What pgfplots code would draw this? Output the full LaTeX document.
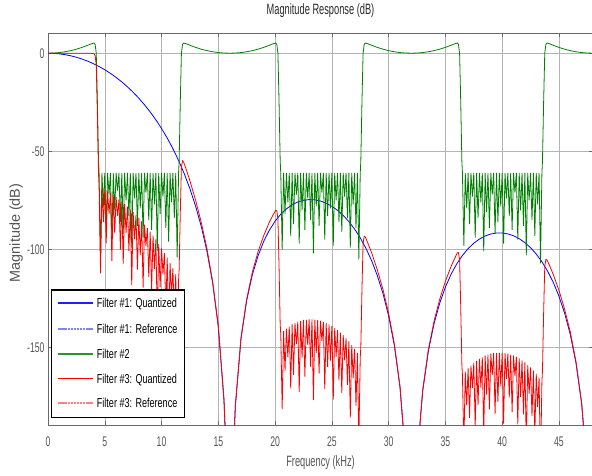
\documentclass[border=0pt]{standalone}
\usepackage{fontspec}
\setmainfont{Liberation Sans}[FakeStretch=0.62]
\newfontfamily\legfont{Liberation Sans}[FakeStretch=0.7]
\newfontfamily\ylfont{Liberation Sans}
\usepackage{pgfplots}
\pgfplotsset{compat=1.18}

\definecolor{fblue}{RGB}{0,0,255}
\definecolor{fgreen}{RGB}{0,128,0}
\definecolor{fred}{RGB}{255,0,0}
\definecolor{legblue}{RGB}{30,30,255}
\definecolor{refblue}{RGB}{130,130,255}
\definecolor{refred}{RGB}{255,130,130}
\definecolor{leggreen}{RGB}{40,150,40}
\definecolor{gridc}{RGB}{180,180,180}
\definecolor{axc}{RGB}{105,105,105}
\definecolor{tickc}{RGB}{85,85,85}
\definecolor{titc}{RGB}{40,40,40}

\begin{document}
\begin{tikzpicture}
\begin{axis}[
  width=545bp, height=392bp, scale only axis,
  xmin=0, xmax=48, ymin=-189.4, ymax=10.3,
  xtick={0,5,...,45}, ytick={-150,-100,-50,0},
  grid=major, major grid style={draw=gridc, line width=0.5pt},
  axis line style={draw=axc, line width=0.9pt},
  tick align=inside, major tick length=4bp,
  every tick/.style={draw=axc, line width=0.5pt},
  /pgf/number format/assume math mode=true,
  tick label style={font=\fontsize{14}{16}\selectfont, text=tickc},
  xticklabel style={anchor=base, yshift=-21bp},
  title={Magnitude Response (dB)},
  title style={font=\fontsize{15}{18}\selectfont, text=titc,
    at={(axis description cs:0.5,1)}, anchor=base, yshift=13bp},
  xlabel={Frequency (kHz)},
  xlabel style={font=\fontsize{15}{18}\selectfont, text=tickc,
    at={(axis description cs:0.5,0)}, anchor=base, yshift=-41bp},
  ylabel={Magnitude (dB)},
  ylabel style={font=\ylfont\fontsize{14.5}{16}\selectfont, text=tickc,
    at={(axis description cs:-0.0514,0.49)}, anchor=base},
]

% Filter #1 (quantized)
\addplot[color=fblue, line width=0.8pt] table[x=f, y=db] {
f db
0 0
0.5 -0.08
1 -0.33
1.5 -0.74
2 -1.31
2.5 -2.05
3 -2.97
3.5 -4.06
4 -5.32
4.5 -6.78
5 -8.43
5.5 -10.27
6 -12.33
6.5 -14.61
7 -17.13
7.5 -19.90
8 -22.94
8.5 -26.27
9 -29.93
9.5 -33.94
10 -38.36
10.5 -43.22
11 -48.62
11.5 -54.60
12 -61.38
12.5 -69.05
13 -77.90
13.5 -88.29
14 -100.92
14.5 -117.02
15 -139.35
15.5 -176.8
15.75 -213.6
16 -300
16.25 -215.1
16.5 -179.7
17 -145.27
17.5 -125.91
18 -112.81
18.5 -103.19
19 -95.84
19.5 -90.10
20 -85.57
20.5 -82.02
21 -79.28
21.5 -77.23
22 -75.80
22.5 -74.92
23 -74.57
23.5 -74.70
24 -75.32
24.5 -76.41
25 -77.98
25.5 -80.05
26 -82.64
26.5 -85.80
27 -89.58
27.5 -94.07
28 -99.38
28.5 -105.67
29 -113.22
29.5 -122.36
30 -133.82
30.5 -148.78
31 -170.03
31.5 -206.4
32 -300
32.5 -207.4
33 -172.0
33.5 -151.74
34 -137.77
34.5 -127.31
35 -119.14
35.5 -112.61
36 -107.31
36.5 -103.01
37 -99.54
37.5 -96.79
38 -94.66
38.5 -93.11
39 -92.10
39.5 -91.59
40 -91.57
40.5 -92.04
41 -93.01
41.5 -94.48
42 -96.49
42.5 -99.08
43 -102.29
43.5 -106.23
44 -110.99
44.5 -116.75
45 -123.76
45.5 -132.40
46 -143.33
46.5 -157.78
47 -178.52
47.5 -214.4
48 -300
};

% Filter #2
\addplot[color=fgreen, line width=0.8pt] table[x=f, y=db] {
f db
0 0
0.5 0.08
1 0.33
1.5 0.74
2 1.31
2.5 2.05
3 2.97
3.5 4.06
3.8 4.75
4.05 5.2
4.15 4.5
4.25 0
4.35 -25
4.45 -55
4.5 -61
4.625 -105
4.75 -61
4.875 -78
5 -61
5.125 -88
5.25 -61
5.375 -72
5.5 -61
5.625 -95
5.75 -61
5.875 -80
6 -61
6.125 -70
6.25 -61
6.375 -86
6.5 -61
6.625 -92
6.75 -61
6.875 -75
7 -61
7.125 -83
7.25 -61
7.375 -99
7.5 -61
7.625 -74
7.75 -61
7.875 -88
8 -61
8.125 -79
8.25 -61
8.375 -94
8.5 -61
8.625 -71
8.75 -61
8.875 -85
9 -61
9.125 -90
9.25 -61
9.375 -77
9.5 -61
9.625 -101
9.75 -61
9.875 -82
10 -61
10.125 -73
10.25 -61
10.375 -89
10.5 -61
10.625 -96
10.75 -61
10.875 -76
11 -61
11.125 -84
11.25 -61
11.375 -104
11.5 -61
11.55 -55
11.65 -25
11.75 0
11.85 4.5
11.95 5.2
12.2 4.75
12.5 4.06
13 2.97
13.5 2.05
14 1.31
14.5 0.74
15 0.33
15.5 0.08
16 0
16.5 0.08
17 0.33
17.5 0.74
18 1.31
18.5 2.05
19 2.97
19.5 4.06
19.8 4.75
20.05 5.2
20.15 4.5
20.25 0
20.35 -25
20.45 -55
20.5 -61
20.625 -100
20.75 -61
20.875 -82
21 -61
21.125 -76
21.25 -61
21.375 -93
21.5 -61
21.625 -87
21.75 -61
21.875 -72
22 -61
22.125 -97
22.25 -61
22.375 -80
22.5 -61
22.625 -90
22.75 -61
22.875 -74
23 -61
23.125 -85
23.25 -61
23.375 -102
23.5 -61
23.625 -78
23.75 -61
23.875 -88
24 -61
24.125 -71
24.25 -61
24.375 -95
24.5 -61
24.625 -83
24.75 -61
24.875 -79
25 -61
25.125 -98
25.25 -61
25.375 -75
25.5 -61
25.625 -86
25.75 -61
25.875 -91
26 -61
26.125 -73
26.25 -61
26.375 -84
26.5 -61
26.625 -99
26.75 -61
26.875 -77
27 -61
27.125 -89
27.25 -61
27.375 -105
27.5 -61
27.55 -55
27.65 -25
27.75 0
27.85 4.5
27.95 5.2
28.2 4.75
28.5 4.06
29 2.97
29.5 2.05
30 1.31
30.5 0.74
31 0.33
31.5 0.08
32 0
32.5 0.08
33 0.33
33.5 0.74
34 1.31
34.5 2.05
35 2.97
35.5 4.06
35.8 4.75
36.05 5.2
36.15 4.5
36.25 0
36.35 -25
36.45 -55
36.5 -61
36.625 -98
36.75 -61
36.875 -79
37 -61
37.125 -87
37.25 -61
37.375 -73
37.5 -61
37.625 -94
37.75 -61
37.875 -84
38 -61
38.125 -76
38.25 -61
38.375 -101
38.5 -61
38.625 -81
38.75 -61
38.875 -89
39 -61
39.125 -72
39.25 -61
39.375 -92
39.5 -61
39.625 -86
39.75 -61
39.875 -78
40 -61
40.125 -97
40.25 -61
40.375 -74
40.5 -61
40.625 -83
40.75 -61
40.875 -90
41 -61
41.125 -71
41.25 -61
41.375 -95
41.5 -61
41.625 -80
41.75 -61
41.875 -88
42 -61
42.125 -103
42.25 -61
42.375 -75
42.5 -61
42.625 -85
42.75 -61
42.875 -93
43 -61
43.125 -77
43.25 -61
43.375 -107
43.5 -61
43.55 -55
43.65 -25
43.75 0
43.85 4.5
43.95 5.2
44.2 4.75
44.5 4.06
45 2.97
45.5 2.05
46 1.31
46.5 0.74
47 0.33
47.5 0.08
48 0
};

% Filter #3 (quantized)
\addplot[color=fred, line width=0.8pt] table[x=f, y=db] {
f db
0 0
0.5 0
1 0
1.5 0
2 0
2.5 0
3 0
3.5 0
3.8 -0.07
4.05 -0.25
4.15 -1.2
4.25 -6
4.35 -31.3
4.45 -61.5
4.5 -67.8
4.625 -112.2
4.75 -68.6
4.875 -86.0
5 -69.4
5.125 -96.9
5.25 -70.4
5.375 -81.8
5.5 -71.3
5.625 -105.8
5.75 -72.3
5.875 -91.8
6 -73.3
6.125 -82.9
6.25 -74.5
6.375 -100.0
6.5 -75.6
6.625 -107.2
6.75 -76.9
6.875 -91.5
7 -78.1
7.125 -100.8
7.25 -79.5
7.375 -118.2
7.5 -80.9
7.625 -94.7
7.75 -82.4
7.875 -110.2
8 -83.9
8.125 -102.8
8.25 -85.6
8.375 -119.4
8.5 -87.3
8.625 -98.2
8.75 -89.1
8.875 -114.0
9 -90.9
9.125 -120.9
9.25 -92.9
9.375 -109.9
9.5 -94.9
9.625 -136.1
9.75 -97.2
9.875 -119.3
10 -99.4
10.125 -112.6
10.25 -101.8
10.375 -131.0
10.5 -104.2
10.625 -140.6
10.75 -106.9
10.875 -123.3
11 -109.6
11.125 -134.1
11.25 -112.6
11.375 -157.1
11.5 -115.6
11.55 -110.3
11.65 -81.6
11.75 -58.0
11.85 -54.8
11.95 -55.5
12.2 -59.7
12.5 -65.0
13 -74.9
13.5 -86.2
14 -99.6
14.5 -116.3
15 -139.0
15.5 -176.7
15.75 -213.6
16 -300
16.25 -215
16.5 -179.6
17 -144.9
17.5 -125.2
18 -111.5
18.5 -101.1
19 -92.9
19.5 -86.0
19.8 -82.6
20.05 -80.1
20.15 -80.3
20.25 -84.3
20.35 -108.8
20.45 -138.3
20.5 -143.0
20.625 -181.3
20.75 -141.6
20.875 -161.9
21 -140.3
21.125 -154.8
21.25 -139.3
21.375 -170.7
21.5 -138.2
21.625 -163.9
21.75 -137.5
21.875 -148.2
22 -136.8
22.125 -172.6
22.25 -136.4
22.375 -155.1
22.5 -135.9
22.625 -164.8
22.75 -135.7
22.875 -148.6
23 -135.6
23.125 -159.6
23.25 -135.6
23.375 -176.7
23.5 -135.7
23.625 -152.8
23.75 -136.0
23.875 -163.2
24 -136.3
24.125 -146.6
24.25 -136.9
24.375 -171.1
24.5 -137.4
24.625 -159.8
24.75 -138.2
24.875 -156.6
25 -139.0
25.125 -176.5
25.25 -140.0
25.375 -154.5
25.5 -141.1
25.625 -166.7
25.75 -142.3
25.875 -173.0
26 -143.6
26.125 -156.4
26.25 -145.2
26.375 -169.0
26.5 -146.8
26.625 -185.7
26.75 -148.7
26.875 -165.6
27 -150.6
27.125 -179.7
27.25 -152.7
27.375 -197.9
27.5 -155.1
27.55 -149.6
27.65 -120.7
27.75 -96.7
27.85 -93.3
27.95 -93.6
28.2 -97.2
28.5 -101.6
29 -110.3
29.5 -120.3
30 -132.5
30.5 -148.0
31 -169.7
31.5 -206.4
32 -300
32.5 -207.3
33 -171.7
33.5 -151.0
34 -136.5
34.5 -125.3
35 -116.2
35.5 -108.6
35.8 -104.7
36.05 -101.7
36.15 -101.6
36.25 -105.2
36.35 -129.3
36.45 -158.4
36.5 -164.0
36.625 -200.1
36.75 -162.2
36.875 -179.4
37 -160.5
37.125 -185.8
37.25 -159.2
37.375 -170.5
37.5 -157.8
37.625 -190.2
37.75 -156.7
37.875 -179.2
38 -155.7
38.125 -170.3
38.25 -154.9
38.375 -194.5
38.5 -154.1
38.625 -173.9
38.75 -153.6
38.875 -181.4
39 -153.1
39.125 -164.0
39.25 -152.8
39.375 -183.7
39.5 -152.6
39.625 -177.6
39.75 -152.6
39.875 -169.6
40 -152.6
40.125 -188.7
40.25 -152.8
40.375 -165.9
40.5 -153.0
40.625 -175.3
40.75 -153.5
40.875 -182.8
41 -154.0
41.125 -164.4
41.25 -154.7
41.375 -189.1
41.5 -155.5
41.625 -175.0
41.75 -156.5
41.875 -184.0
42 -157.5
42.125 -200.1
42.25 -158.8
42.375 -173.4
42.5 -160.1
42.625 -184.9
42.75 -161.7
42.875 -194.5
43 -163.3
43.125 -180.3
43.25 -165.3
43.375 -212.2
43.5 -167.2
43.55 -161.7
43.65 -132.7
43.75 -108.6
43.85 -105.1
43.95 -105.3
44.2 -108.5
44.5 -112.7
45 -120.8
45.5 -130.4
46 -142.0
46.5 -157.0
47 -178.2
47.5 -214.3
48 -300
};
\end{axis}

% legend box, drawn in bp offsets from the axis corner
\begin{scope}[shift={(current axis.south west)}, x=1bp, y=1bp,
  lab/.style={anchor=base west, inner sep=0pt, font=\legfont\fontsize{13}{15}\selectfont}]
\draw[black, line width=1.2bp, fill=white] (3.5,7.7) rectangle (136.3,135);
\draw[legblue, line width=1.7pt] (10.3,121.7) -- (45.3,121.7);
\node[lab] at (48.7,117.1) {Filter \#1: Quantized};
\draw[refblue, line width=1.8pt, dash pattern=on 2.5pt off 0.6pt] (10.3,95.7) -- (45.3,95.7);
\node[lab] at (48.7,91.1) {Filter \#1: Reference};
\draw[leggreen, line width=1.7pt] (10.3,71.0) -- (45.3,71.0);
\node[lab] at (48.7,66.4) {Filter \#2};
\draw[fred, line width=1.5pt] (10.3,46.3) -- (45.3,46.3);
\node[lab] at (48.7,41.7) {Filter \#3: Quantized};
\draw[refred, line width=1.8pt, dash pattern=on 2.5pt off 0.6pt] (10.3,22.3) -- (45.3,22.3);
\node[lab] at (48.7,17.7) {Filter \#3: Reference};
\end{scope}

\pgfresetboundingbox
\useasboundingbox ([xshift=-48bp,yshift=-50bp]current axis.south west) rectangle ([xshift=-1bp,yshift=33bp]current axis.north east);
\end{tikzpicture}
\end{document}
